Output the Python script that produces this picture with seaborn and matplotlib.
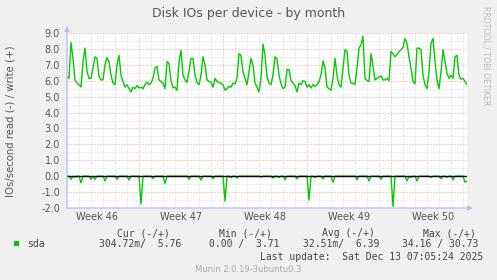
import numpy as np
import pandas as pd
import matplotlib
matplotlib.use("Agg")
import matplotlib.pyplot as plt
import matplotlib.dates as mdates
from matplotlib.ticker import MultipleLocator, FormatStrFormatter, NullFormatter
from matplotlib.patches import Rectangle
import seaborn as sns

# ---------------- data (one sample every 4 hours) ----------------
start_time = "2025-11-10 00:00"
sample_freq = "4h"

write_ios = [
    6.25, 6.15, 8.4, 7.4, 6.05, 5.85,
    5.75, 5.6, 7.2, 8.05, 6.6, 6.15,
    6.15, 6.8, 7.5, 7.4, 6.25, 6.05,
    6.05, 7.0, 7.45, 7.2, 6.35, 5.85,
    5.75, 7.0, 7.6, 6.35, 5.95, 5.6,
    5.75, 5.5, 5.3, 5.6, 5.5, 5.7,
    5.55, 5.6, 5.5, 5.75, 5.9, 5.75,
    5.85, 6.15, 6.8, 6.9, 6.05, 5.95,
    5.85, 5.5, 7.2, 7.1, 6.0, 5.55,
    5.6, 5.4, 7.2, 7.9, 6.35, 6.05,
    5.9, 6.6, 7.4, 7.4, 6.35, 5.9,
    5.75, 6.35, 7.5, 7.0, 6.05, 5.95,
    5.9, 5.6, 6.15, 5.95, 5.9, 5.85,
    5.75, 5.4, 5.5, 5.65, 5.6, 5.85,
    5.8, 6.15, 7.7, 7.6, 6.55, 6.15,
    5.75, 6.55, 7.4, 7.0, 5.85, 5.6,
    5.3, 6.15, 8.3, 7.6, 6.25, 5.85,
    5.75, 6.35, 7.5, 7.35, 6.35, 5.8,
    5.5, 5.6, 6.7, 6.7, 6.0, 5.85,
    5.7, 5.3, 5.85, 5.75, 6.0, 5.95,
    5.6, 5.75, 5.55, 5.75, 5.65, 5.75,
    5.95, 6.35, 7.25, 6.8, 5.6, 5.5,
    5.4, 6.15, 7.4, 6.35, 5.75, 5.6,
    6.8, 7.95, 7.85, 6.35, 5.85, 5.85,
    5.75, 6.8, 8.05, 8.25, 8.8, 6.15,
    6.0, 5.95, 7.7, 6.9, 6.05, 6.15,
    6.25, 6.3, 6.05, 6.05, 6.15, 6.0,
    7.85, 7.7, 7.5, 7.65, 7.85, 7.95,
    8.1, 8.65, 8.35, 7.5, 6.8, 5.95,
    5.8, 8.05, 8.05, 7.95, 6.35, 5.75,
    5.5, 6.55, 8.35, 8.65, 7.2, 6.05,
    5.5, 6.55, 7.95, 7.2, 6.45, 6.15,
    6.35, 6.15, 7.5, 7.6, 6.35, 6.1,
    6.15, 5.95, 5.75,
]

read_ios = [
    0, 0, -0.2, 0, -0.06, 0,
    0, -0.42, 0, 0, 0, 0,
    -0.2, 0, -0.2, 0, 0, 0,
    0, -0.3, 0, 0, 0, 0,
    0, -0.2, 0, 0, 0, 0,
    0, -0.25, 0, 0, 0, 0,
    0, -1.74, 0, 0, 0, 0,
    0, -0.15, 0, 0, 0, 0,
    0, -0.46, 0, 0, 0, 0,
    0, 0, 0, 0, 0, 0,
    0, -0.2, 0, 0, 0, 0,
    0, -0.25, 0, 0, 0, 0,
    0, -0.15, 0, 0, 0, 0,
    0, -1.57, 0, 0, -0.1, 0,
    0, -0.1, 0, 0, 0, 0,
    0, 0, 0, 0, 0, 0,
    0, -0.06, 0, 0, 0, 0,
    0, -0.12, 0, 0, -0.08, 0,
    0, -0.23, 0, 0, 0, 0,
    0, -0.17, 0, 0, 0, 0,
    0, -1.49, 0, 0, -0.08, 0,
    0, 0, -0.17, 0, 0, 0,
    0, -0.38, 0, 0, 0, 0,
    0, 0, 0, 0, 0, 0,
    0, -0.23, 0, 0, 0, 0,
    0, -0.3, 0, 0, 0, 0,
    0, -0.2, 0, 0, 0, 0,
    0, -1.9, 0, 0, 0, 0,
    0, 0, -0.3, 0, -0.08, 0,
    0, -0.3, 0, 0, 0, 0,
    0, 0, -0.08, 0, 0, 0,
    0, -0.17, 0, 0, -0.08, 0,
    0, -0.23, 0, 0, 0, 0,
    0, -0.38, -0.3,
]

week_labels = ["Week 46", "Week 47", "Week 48", "Week 49", "Week 50"]
week_centers = ["2025-11-12 12:00", "2025-11-19 12:00", "2025-11-26 12:00",
                "2025-12-03 12:00", "2025-12-10 12:00"]

title = "Disk IOs per device - by month"
ylabel = "IOs/second read (-) / write (+)"
series_name = "sda"
legend_headers = ["Cur (-/+)", "Min (-/+)", "Avg (-/+)", "Max (-/+)"]
legend_values = ["304.72m/  5.76", "0.00 /  3.71", "32.51m/  6.39", "34.16 / 30.73"]
last_update = "Last update:  Sat Dec 13 07:05:24 2025"
footer = "Munin 2.0.19-3ubuntu0.3"
side_text = "RRDTOOL / TOBI OETIKER"

# ---------------- styling ----------------
sns.set_style("white")
plt.rcParams["font.family"] = ["DejaVu Sans"]
plt.rcParams["axes.unicode_minus"] = False

W, H = 497, 280
GREEN = "#00CC00"
TXT = "#555555"
AXISC = "#BBBBEE"

def fx(px):
    return px / W

def fy(py):
    return 1 - py / H

times = pd.date_range(start_time, periods=len(write_ios), freq=sample_freq)
df = pd.DataFrame({"time": times, "write": write_ios, "read": read_ios})

fig = plt.figure(figsize=(W / 100, H / 100), dpi=100, facecolor="#F0F0F0")
ax = fig.add_axes([fx(67), 72 / H, 400 / W, 175 / H])
ax.set_facecolor("white")

sns.lineplot(data=df, x="time", y="write", color=GREEN, lw=1.0, ax=ax, zorder=4)
sns.lineplot(data=df, x="time", y="read", color=GREEN, lw=1.0, ax=ax, zorder=4)
ax.axhline(0, color="black", lw=1.0, zorder=5)

ax.set_xlim(times[0], times[-1])
ax.set_ylim(-2, 9)
ax.yaxis.set_major_locator(MultipleLocator(1))
ax.yaxis.set_minor_locator(MultipleLocator(0.5))
ax.yaxis.set_major_formatter(FormatStrFormatter("%.1f"))
ax.xaxis.set_major_locator(mdates.WeekdayLocator(byweekday=mdates.SU))
ax.xaxis.set_minor_locator(mdates.DayLocator())
ax.xaxis.set_major_formatter(NullFormatter())
ax.xaxis.set_minor_formatter(NullFormatter())

ax.grid(which="minor", color="#D8D8D8", linestyle=(0, (1, 2)), lw=0.72, zorder=1)
ax.grid(which="major", color="#F2A0A0", linestyle=(0, (1, 2)), lw=0.72, zorder=2)
ax.set_axisbelow(True)

ax.tick_params(which="both", length=0)
ax.tick_params(axis="y", labelsize=7, labelcolor=TXT, pad=5)
ax.set_xlabel("")
ax.set_ylabel("")
for s in ax.spines.values():
    s.set_visible(False)

# axis arrows
ax.annotate("", xy=(1 + 6 / 400, 0), xytext=(0, 0), xycoords="axes fraction",
            arrowprops=dict(arrowstyle="-|>", color=AXISC, lw=0.9, mutation_scale=7,
                            shrinkA=0, shrinkB=0), annotation_clip=False, zorder=6)
ax.annotate("", xy=(0, 1 + 7 / 175), xytext=(0, 0), xycoords="axes fraction",
            arrowprops=dict(arrowstyle="-|>", color=AXISC, lw=0.9, mutation_scale=7,
                            shrinkA=0, shrinkB=0), annotation_clip=False, zorder=6)

# week labels
tr = matplotlib.transforms.blended_transform_factory(ax.transData, ax.transAxes)
for lab, c in zip(week_labels, week_centers):
    ax.text(mdates.date2num(pd.Timestamp(c)), -9 / 175, lab, transform=tr,
            ha="center", va="center", fontsize=7, color=TXT)

# titles
fig.text(fx(248.5), fy(13), title, ha="center", va="center", fontsize=9, color=TXT)
fig.text(fx(11), fy(121), ylabel, rotation=90, ha="center", va="center",
         fontsize=7.3, color=TXT)
fig.text(fx(486), fy(56), side_text, rotation=270, ha="center", va="center",
         fontsize=5.6, color="#BBBBBB")

# legend block
mono = dict(family="DejaVu Sans Mono", fontsize=7, color="#444444", va="center")
fig.patches.append(Rectangle((fx(14), fy(246)), 5 / W, 5 / H, transform=fig.transFigure,
                             facecolor=GREEN, edgecolor="none"))
fig.text(fx(27), fy(244), series_name, ha="left", **mono)
for hdr, hx in zip(legend_headers, [117, 219, 322, 423]):
    fig.text(fx(hx), fy(233), hdr, ha="left", **mono)
for val, vx in zip(legend_values, [99, 209, 303, 402]):
    fig.text(fx(vx), fy(244), val, ha="left", **mono)
fig.text(fx(483), fy(256.5), last_update, ha="right", **mono)
fig.text(fx(248.5), fy(269), footer, ha="center", va="center", fontsize=6,
         color="#AAAAAA")

fig.savefig("out.png", dpi=100, facecolor=fig.get_facecolor())
